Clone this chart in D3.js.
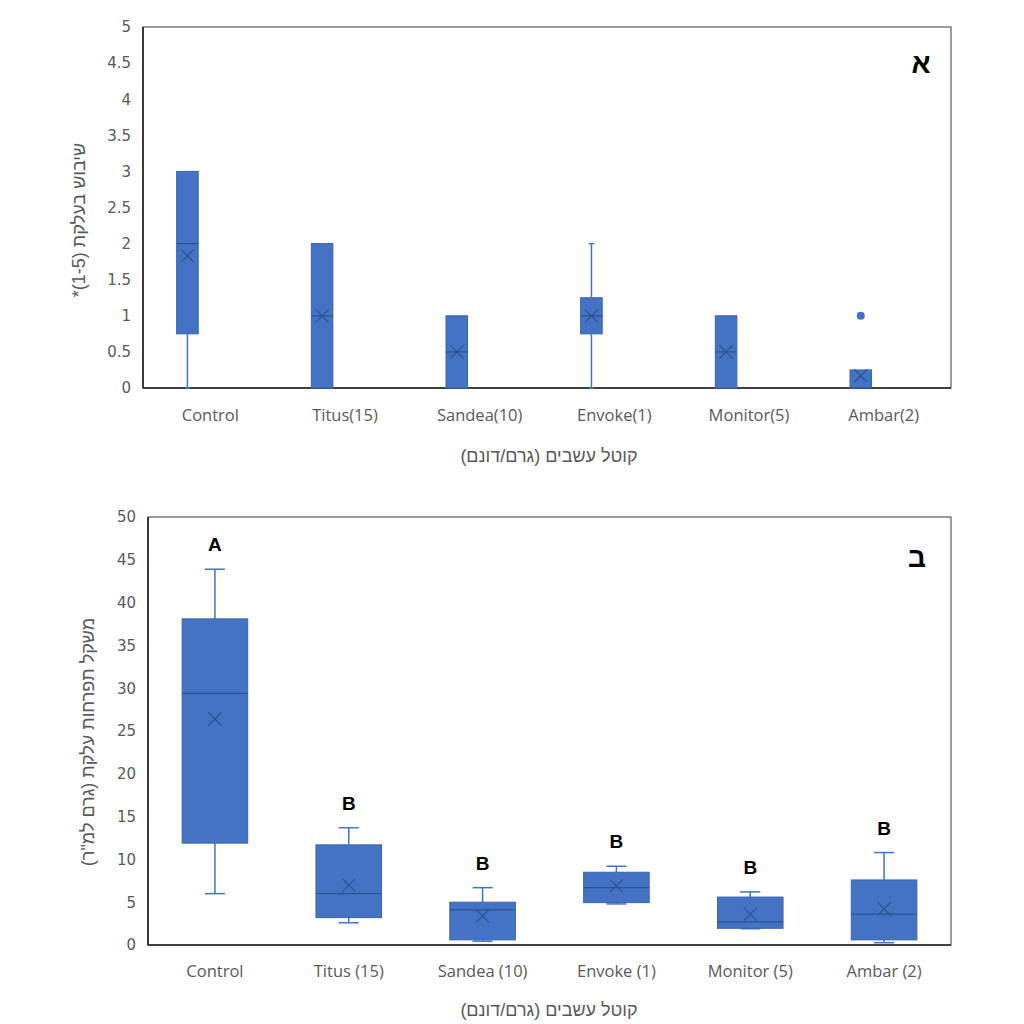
<!DOCTYPE html>
<html><head><meta charset="utf-8">
<script src="https://cdn.jsdelivr.net/npm/d3@7"></script>
<style>body{margin:0;background:#fff}</style></head>
<body><svg id="c" width="1024" height="1024"></svg>
<script>
// ---- Chart A (top) data ----
const categoriesA = ["Control","Titus(15)","Sandea(10)","Envoke(1)","Monitor(5)","Ambar(2)"];
const minA  = [0, 0, 0, 0, 0, 0];
const q1A   = [0.75, 0, 0, 0.75, 0, 0];
const medA  = [2, 1, 0.5, 1, 0.5, 0];
const q3A   = [3, 2, 1, 1.25, 1, 0.25];
const maxA  = [3, 2, 1, 2, 1, 0.25];
const meanA = [1.83, 1, 0.5, 1, 0.5, 0.17];
const outA  = [[], [], [], [], [], [1]];
const ticksA = [0,0.5,1,1.5,2,2.5,3,3.5,4,4.5,5];

// ---- Chart B (bottom) data ----
const categoriesB = ["Control","Titus (15)","Sandea (10)","Envoke (1)","Monitor (5)","Ambar (2)"];
const minB  = [6.0, 2.6, 0.45, 4.8, 1.9, 0.27];
const q1B   = [11.9, 3.2, 0.6, 4.95, 1.95, 0.6];
const medB  = [29.4, 6.0, 4.1, 6.7, 2.7, 3.6];
const q3B   = [38.1, 11.7, 5.0, 8.5, 5.6, 7.6];
const maxB  = [43.9, 13.7, 6.7, 9.2, 6.2, 10.8];
const meanB = [26.4, 7.0, 3.4, 6.9, 3.6, 4.2];
const lettersB = ["A","B","B","B","B","B"];
const ticksB = [0,5,10,15,20,25,30,35,40,45,50];

const FILL = "#4472C4", DARK = "#2F528F", TXT = "#595959";
const svg = d3.select("#c");

function drawChart(o) {
  const g = svg.append("g");
  const x = d3.scaleBand().domain(o.cats).range([o.left, o.right]);
  const y = d3.scaleLinear().domain([0, o.ymax]).range([o.bottom, o.top]);
  const bw = x.bandwidth();
  const cx = c => x(c) + bw * o.centerFrac;
  const w = bw * o.boxFrac;

  // plot frame
  g.append("rect").attr("x", o.left).attr("y", o.top)
    .attr("width", o.right - o.left).attr("height", o.bottom - o.top)
    .attr("fill", "none").attr("stroke", "#595959").attr("stroke-width", 1.2);
  g.append("line").attr("x1", o.left).attr("x2", o.right).attr("y1", o.bottom).attr("y2", o.bottom)
    .attr("stroke", "#222").attr("stroke-width", 1.6);
  g.append("line").attr("x1", o.left).attr("x2", o.left).attr("y1", o.top).attr("y2", o.bottom)
    .attr("stroke", "#222").attr("stroke-width", 1.6);

  // y axis
  const ya = g.append("g").attr("transform", `translate(${o.left - o.tickGap},0)`)
    .call(d3.axisLeft(y).tickValues(o.ticks).tickSize(0).tickFormat(d => String(d)));
  ya.select(".domain").remove();
  ya.selectAll("text").attr("fill", TXT).style("font-family", "DejaVu Sans").style("font-size", "15px").attr("x", 0);

  // x axis labels
  const xa = g.append("g").attr("transform", `translate(0,${o.bottom})`)
    .call(d3.axisBottom(x).tickSize(0));
  xa.select(".domain").remove();
  xa.selectAll("text").attr("fill", TXT).attr("dy", 0).attr("y", o.catDy)
    .style("font-family", "Open Sans, Liberation Sans").style("font-size", "16.5px");

  o.cats.forEach((c, i) => {
    const xc = cx(c);
    // whiskers
    const wl = g.append("g").attr("stroke", FILL).attr("stroke-width", 1.5);
    if (o.max[i] > o.q3[i]) {
      wl.append("line").attr("x1", xc).attr("x2", xc).attr("y1", y(o.q3[i])).attr("y2", y(o.max[i]));
      wl.append("line").attr("x1", xc - o.cap/2).attr("x2", xc + o.cap/2).attr("y1", y(o.max[i])).attr("y2", y(o.max[i]));
    }
    if (o.min[i] < o.q1[i]) {
      wl.append("line").attr("x1", xc).attr("x2", xc).attr("y1", y(o.q1[i])).attr("y2", y(o.min[i]));
      wl.append("line").attr("x1", xc - o.cap/2).attr("x2", xc + o.cap/2).attr("y1", y(o.min[i])).attr("y2", y(o.min[i]));
    }
    // box
    g.append("rect").attr("x", xc - w/2).attr("y", y(o.q3[i]))
      .attr("width", w).attr("height", Math.max(0, y(o.q1[i]) - y(o.q3[i])))
      .attr("fill", FILL).attr("stroke", "#3A64B0").attr("stroke-width", 1);
    // median
    g.append("line").attr("x1", xc - w/2).attr("x2", xc + w/2)
      .attr("y1", y(o.med[i])).attr("y2", y(o.med[i]))
      .attr("stroke", DARK).attr("stroke-width", 1.2);
    // mean X
    const m = y(o.mean[i]), s = o.xs;
    g.append("path").attr("d", `M${xc-s},${m-s}L${xc+s},${m+s}M${xc-s},${m+s}L${xc+s},${m-s}`)
      .attr("stroke", DARK).attr("stroke-width", 1.2).attr("fill", "none");
    // outliers
    (o.out ? o.out[i] : []).forEach(v => {
      g.append("circle").attr("cx", xc).attr("cy", y(v)).attr("r", 4).attr("fill", FILL);
    });
    // letters
    if (o.letters) {
      g.append("text").attr("x", xc).attr("y", y(o.max[i]) - o.letterGap)
        .attr("text-anchor", "middle").attr("font-family", "Liberation Sans, Arial")
        .attr("font-weight", "bold").attr("font-size", 19).attr("fill", "#000").text(o.letters[i]);
    }
  });

  // y title (rotated)
  g.append("text").attr("transform", `translate(${o.ytX},${o.ytY}) rotate(-90)`)
    .attr("text-anchor", "middle").attr("direction", "rtl").attr("dominant-baseline", "middle")
    .attr("font-family", "Liberation Sans, DejaVu Sans").attr("font-size", 18).attr("fill", TXT)
    .text(o.ytitle);
  // x title
  g.append("text").attr("x", o.xtX).attr("y", o.xtY)
    .attr("text-anchor", "middle").attr("direction", "rtl")
    .attr("font-family", "Liberation Sans, DejaVu Sans").attr("font-size", 18).attr("fill", TXT)
    .text("קוטל עשבים (גרם/דונם)");
  // panel letter
  g.append("text").attr("x", o.plX).attr("y", o.plY).attr("text-anchor", "middle")
    .attr("font-family", "Liberation Sans, Arial").attr("font-weight", "bold")
    .attr("font-size", 28).attr("fill", "#000").text(o.panel);
}

drawChart({
  cats: categoriesA, min: minA, q1: q1A, med: medA, q3: q3A, max: maxA, mean: meanA, out: outA,
  ticks: ticksA, ymax: 5, left: 143, right: 951, top: 27, bottom: 388,
  centerFrac: 0.33, boxFrac: 0.16, cap: 5, xs: 6.5, tickGap: 12, catDy: 33,
  ytitle: "שיבוש בעלקת (1-5)*", ytX: 80, ytY: 220, xtX: 549, xtY: 462,
  panel: "א", plX: 921, plY: 73
});

drawChart({
  cats: categoriesB, min: minB, q1: q1B, med: medB, q3: q3B, max: maxB, mean: meanB, letters: lettersB,
  ticks: ticksB, ymax: 50, left: 148, right: 951, top: 517, bottom: 945,
  centerFrac: 0.5, boxFrac: 0.49, cap: 20, xs: 6.5, tickGap: 12, catDy: 32, letterGap: 18,
  ytitle: "משקל תפרחות עלקת (גרם למ\"ר)", ytX: 89, ytY: 742, xtX: 549, xtY: 1016,
  panel: "ב", plX: 917, plY: 567
});
</script>
</body></html>
